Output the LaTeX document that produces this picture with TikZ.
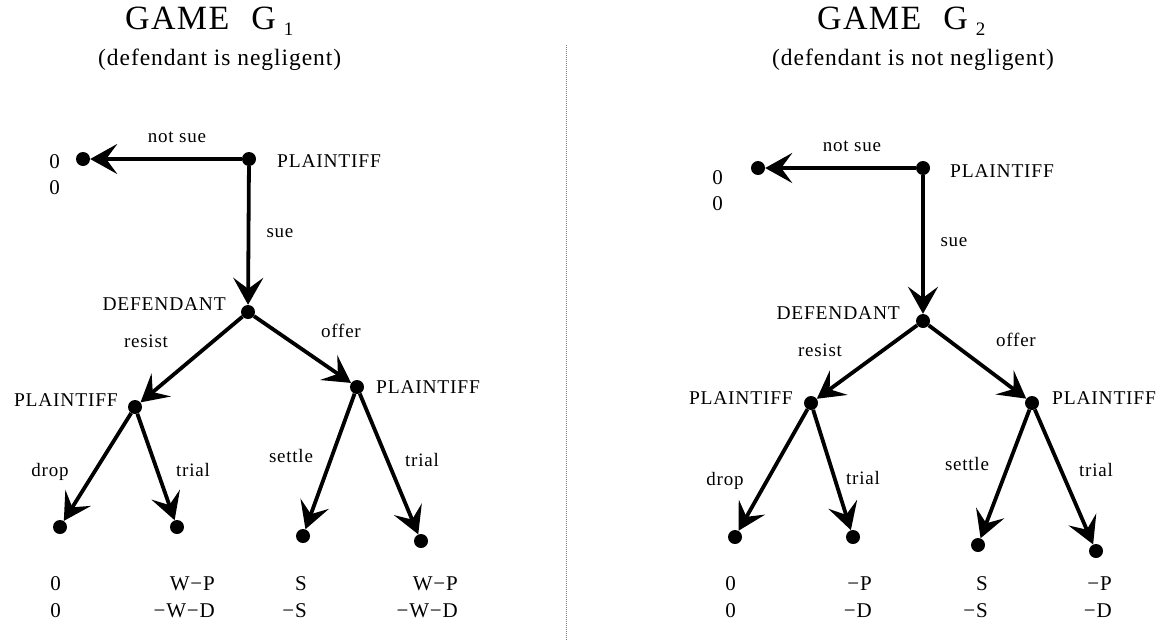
\documentclass[tikz,border=0pt]{standalone}
\usepackage{fontspec}
\setmainfont{Liberation Serif}[LetterSpace=4]
\usetikzlibrary{arrows.meta}
\tikzset{
  dot/.style={circle, fill=black, inner sep=0pt, minimum size=14pt},
  edge/.style={line width=3.8pt, -{Stealth[length=27pt, width=30pt, inset=11pt]}},
  lab/.style={inner sep=0pt, anchor=base, font=\fontsize{19}{19}\selectfont},
  player/.style={inner sep=0pt, font=\fontsize{19.5}{19.5}\selectfont},
  pay/.style={inner sep=0pt, anchor=base east, font=\fontsize{21}{21}\selectfont},
  title/.style={inner sep=0pt, anchor=base west, font=\fontsize{34}{34}\selectfont},
  subtitle/.style={inner sep=0pt, anchor=base west, font=\fontsize{23.5}{23.5}\selectfont},
  divider/.style={gray, line width=1pt, densely dotted}
}
\newcommand{\gamesub}[1]{\hspace{8pt}\raisebox{-6pt}{\fontsize{19}{19}\selectfont #1}}
\begin{document}
\begin{tikzpicture}[x=1pt, y=-1pt]
\useasboundingbox (0,0) rectangle (1167,640);

% titles
\node[title] (t1) at (125,29) {GAME\hspace{22pt}G\gamesub{1}};
\node[subtitle] (s1) at (98,65) {(defendant is negligent)};
\node[title] (t2) at (817,29) {GAME\hspace{22pt}G\gamesub{2}};
\node[subtitle] (s2) at (772,65) {(defendant is not negligent)};

% divider
\coordinate (dtop) at (566,45);
\coordinate (dbot) at (566,640);
\draw[divider] (dtop) -- (dbot);

% ---------- GAME 1 ----------
\node[dot] (a0) at (249,159) {};
\node[dot] (a1) at (83,159) {};
\node[dot] (a2) at (248,312) {};
\node[dot] (a3) at (135,407) {};
\node[dot] (a4) at (357,387) {};
\node[dot] (a5) at (60,527) {};
\node[dot] (a6) at (177,527) {};
\node[dot] (a7) at (303,536) {};
\node[dot] (a8) at (421,541) {};

\draw[edge] (a0) -- (a1);
\draw[edge] (a0) -- (a2);
\draw[edge] (a2) -- (a3);
\draw[edge] (a2) -- (a4);
\draw[edge] (a3) -- (a5);
\draw[edge] (a3) -- (a6);
\draw[edge] (a4) -- (a7);
\draw[edge] (a4) -- (a8);

\node[player, anchor=base west] (pa0) at (277,167) {PLAINTIFF};
\node[player, anchor=base east] (pa2) at (226,310) {DEFENDANT};
\node[player, anchor=base east] (pa3) at (118,406) {PLAINTIFF};
\node[player, anchor=base west] (pa4) at (376,393) {PLAINTIFF};

\node[lab] (la1) at (177,142) {not sue};
\node[lab] (la2) at (280,237) {sue};
\node[lab] (la3) at (146,347) {resist};
\node[lab] (la4) at (341,337) {offer};
\node[lab] (la5) at (50,476) {drop};
\node[lab] (la6) at (193,476) {trial};
\node[lab] (la7) at (291,462) {settle};
\node[lab] (la8) at (422,466) {trial};

\node[pay] (ua1) at (60,168) {0};
\node[pay] (va1) at (60,194) {0};
\node[pay] (ua5) at (61,590) {0};
\node[pay] (va5) at (61,617) {0};
\node[pay] (ua6) at (215,590) {W−P};
\node[pay] (va6) at (215,617) {−W−D};
\node[pay] (ua7) at (307,590) {S};
\node[pay] (va7) at (307,617) {−S};
\node[pay] (ua8) at (458,590) {W−P};
\node[pay] (va8) at (458,617) {−W−D};

% ---------- GAME 2 ----------
\node[dot] (b0) at (923,168) {};
\node[dot] (b1) at (758,168) {};
\node[dot] (b2) at (923,321) {};
\node[dot] (b3) at (811,403) {};
\node[dot] (b4) at (1032,403) {};
\node[dot] (b5) at (735,537) {};
\node[dot] (b6) at (853,537) {};
\node[dot] (b7) at (978,545) {};
\node[dot] (b8) at (1096,551) {};

\draw[edge] (b0) -- (b1);
\draw[edge] (b0) -- (b2);
\draw[edge] (b2) -- (b3);
\draw[edge] (b2) -- (b4);
\draw[edge] (b3) -- (b5);
\draw[edge] (b3) -- (b6);
\draw[edge] (b4) -- (b7);
\draw[edge] (b4) -- (b8);

\node[player, anchor=base west] (pb0) at (950,177) {PLAINTIFF};
\node[player, anchor=base east] (pb2) at (900,319) {DEFENDANT};
\node[player, anchor=base east] (pb3) at (793,404) {PLAINTIFF};
\node[player, anchor=base west] (pb4) at (1052,404) {PLAINTIFF};

\node[lab] (lb1) at (852,151) {not sue};
\node[lab] (lb2) at (954,246) {sue};
\node[lab] (lb3) at (820,356) {resist};
\node[lab] (lb4) at (1016,346) {offer};
\node[lab] (lb5) at (725,485) {drop};
\node[lab] (lb6) at (863,484) {trial};
\node[lab] (lb7) at (967,470) {settle};
\node[lab] (lb8) at (1096,476) {trial};

\node[pay] (ub1) at (723,184) {0};
\node[pay] (vb1) at (723,210) {0};
\node[pay] (ub5) at (736,590) {0};
\node[pay] (vb5) at (736,617) {0};
\node[pay] (ub6) at (872,590) {−P};
\node[pay] (vb6) at (872,617) {−D};
\node[pay] (ub7) at (988,590) {S};
\node[pay] (vb7) at (988,617) {−S};
\node[pay] (ub8) at (1112,590) {−P};
\node[pay] (vb8) at (1112,617) {−D};
\end{tikzpicture}
\end{document}
